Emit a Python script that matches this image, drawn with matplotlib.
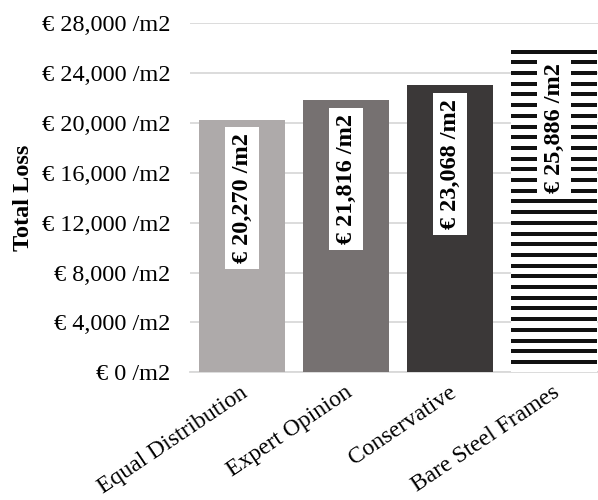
import matplotlib
matplotlib.use("Agg")
import matplotlib.pyplot as plt
from matplotlib.ticker import FuncFormatter
from matplotlib.transforms import ScaledTranslation

plt.rcParams['font.family'] = ['Liberation Serif', 'DejaVu Serif']

categories = ["Equal Distribution", "Expert Opinion", "Conservative", "Bare Steel Frames"]
values = [20270, 21816, 23068, 25886]
yticks = [0, 4000, 8000, 12000, 16000, 20000, 24000, 28000]
colors = ["#AEAAAA", "#767171", "#3B3838", "#FFFFFF"]

FS = 17.5

fig = plt.figure(figsize=(5.98, 5.0), dpi=100)
ax = fig.add_axes([190 / 598, 1 - 372.3 / 500, 1 - 190 / 598, (372.3 - 23.3) / 500])

x = list(range(len(categories)))
bars = ax.bar(x, values, width=0.836, color=colors, zorder=2, linewidth=0)

ax.set_xlim(-0.5, 3.423)
ax.set_ylim(0, 28000)
ax.set_yticks(yticks)
ax.yaxis.set_major_formatter(FuncFormatter(lambda v, p: "€ {:,.0f} /m2".format(v)))
ax.tick_params(axis='y', length=0, labelsize=FS, pad=14)
ax.tick_params(axis='x', length=0)
ax.grid(axis='y', color='#D9D9D9', linewidth=1.3, zorder=0)
for s in ['top', 'right', 'left']:
    ax.spines[s].set_visible(False)
ax.spines['bottom'].set_color('#D9D9D9')
ax.spines['bottom'].set_linewidth(1.3)
ax.spines['bottom'].set_zorder(1)

ax.set_xticks(x)
ax.set_xticklabels(categories, rotation=34, ha='right', va='top',
                   rotation_mode='anchor', fontsize=17)
for lbl in ax.get_xticklabels():
    lbl.set_transform(lbl.get_transform() +
                      ScaledTranslation(-2 / 100, -5 / 100, fig.dpi_scale_trans))

ax.set_ylabel("Total Loss", fontsize=FS, fontweight='bold')
ax.yaxis.set_label_coords(-0.382, 0.5)

# dark horizontal stripe fill for the last bar
fig.canvas.draw()
striped = bars[3]
period_px = 10.7
stripe_pt = 4.0 * 72 / 100
to_data = ax.transData.inverted()
top_px = ax.transData.transform((0, striped.get_height()))[1]
base_px = ax.transData.transform((0, 0))[1]
ypx = top_px - 2.0
x0 = striped.get_x()
x1 = striped.get_x() + striped.get_width()
while ypx > base_px:
    yd = to_data.transform((0, ypx))[1]
    ln = ax.plot([x0, x1], [yd, yd], color='#111111', linewidth=stripe_pt,
                 solid_capstyle='butt', zorder=3)[0]
    ln.set_clip_path(striped)
    ypx -= period_px

# value labels inside the top of each bar
for b, v in zip(bars, values):
    ax.annotate("€ {:,.0f} /m2".format(v),
                xy=(b.get_x() + b.get_width() / 2, v),
                xytext=(0, -10), textcoords='offset points',
                rotation=90, ha='center', va='top', fontsize=FS, fontweight='bold',
                bbox=dict(boxstyle='square,pad=0.25', fc='white', ec='none'),
                zorder=5)

fig.savefig("out.png", dpi=100)
